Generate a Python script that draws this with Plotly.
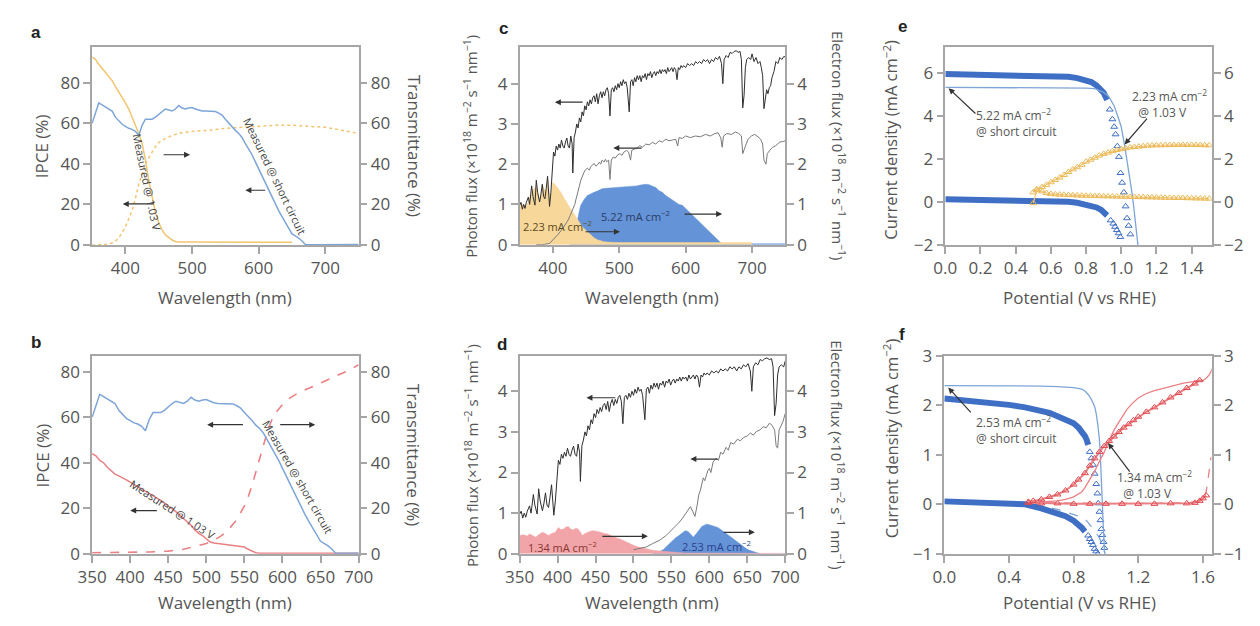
import plotly.graph_objects as go

# ---------------- data ----------------
# Panels a/b : IPCE at short circuit (shared)
ipce_sc_wl = [350,355,360,365,370,375,380,385,390,395,400,405,410,415,420,425,430,435,440,445,450,455,460,465,470,475,480,485,490,495,500,505,510,515,520,525,530,535,540,545,550,555,560,565,570,575,580,585,590,595,600,605,610,615,620,625,630,635,640,645,650,655,660,665,670,680,690,700,720,750]
ipce_sc = [60,65,70,69,68,67,66,63,61,59.5,58.5,57.5,57,56,54,59,62,62,62,63,64.5,66,67,66.5,66,67,68.7,67.5,67,67.5,67.7,67,66.3,66,66,66,66,65.8,65,64,62,60,58.5,56.5,55,53,50,47.5,44.5,41,37.5,34,30.5,27,24,20.5,17,14,11,8,5.5,4.5,3.5,2,0.3,0.2,0.2,0.2,0.3,0.3]

# Panel a : IPCE @1.03 V and transmittance (orange)
a_ipce_v_wl = [350,355,360,365,370,375,380,385,390,395,400,405,410,415,420,425,430,435,440,445,450,455,460,465,470,475,480,500,550,600,650]
a_ipce_v = [92.5,91.5,89,87,85,83,81,78,75.5,73,70,67,63,59.5,55,50,42,32,24,16,11,7.5,5,3.5,2.5,1.8,1.5,1.5,1.5,1.5,1.4]
a_trans_wl = [350,360,370,380,385,390,395,400,405,410,415,420,425,430,435,440,445,450,460,470,480,500,525,550,575,600,625,650,675,700,725,750]
a_trans = [0,0,0.3,1,2,3.5,6,9,13,17,23,30,35,40,43,46,48.5,50.5,52.5,54,55,56,56.5,57.5,58,58.5,59,59,58.5,58,56.5,55]

# Panel b : IPCE @1.03 V and transmittance (red)
b_ipce_v_wl = [350,355,360,365,370,375,380,385,390,395,400,410,420,430,440,450,460,470,480,485,490,495,500,505,510,520,530,540,550,555,560,565,570,580,600,650,700]
b_ipce_v = [44,43,41,40,38,36.5,35,34.2,33.5,32.5,31.5,29.5,27.5,25.5,23.5,21,18.5,15.5,12.5,10.5,9,8,6.5,5.2,4.8,4.3,4,3.5,3,2,1.2,0.5,0.3,0.2,0.2,0.2,0.2]
b_trans_wl = [350,375,400,425,450,470,480,490,500,510,520,530,540,550,555,560,565,570,575,580,585,590,600,610,620,630,640,650,660,670,680,690,700]
b_trans = [0.5,0.5,0.5,0.8,1.2,2,2.8,3.5,4.5,6,8,11,15,21,25,30,36,42,48,53.5,58,61.5,65.5,68.5,70.5,72,73.5,75,76.5,78,79.5,81,83]

# Panels c/d : solar photon flux (shared)
solar_wl = [350,352,354,356,358,360,363,365,368,370,373,375,377,380,382,384,386,388,390,392,394,395,397,399,401,403,405,407,409,411,413,415,417,419,421,423,425,427,429,430,432,434,436,438,440,442,444,446,448,450,452,454,456,458,460,462,464,466,468,470,472,474,476,478,480,482,484,486,488,490,492,494,496,498,500,502,504,506,508,510,512,515,517,519,521,523,525,527,529,531,533,535,537,539,541,543,545,547,549,551,553,555,557,559,561,563,565,567,569,571,573,575,577,579,581,583,585,587,589,591,593,595,597,600,603,606,609,612,615,618,621,624,627,630,633,636,639,642,645,648,651,654,656,658,661,664,667,670,673,676,679,682,684,686,688,690,692,695,698,700,703,706,709,712,714,716,718,720,722,724,726,728,730,733,736,739,742,745,748,750]
solar_flux = [0.98,1.05,0.88,1.0,0.9,1.05,1.18,1.0,1.46,1.2,0.98,1.6,1.3,1.06,1.25,1.5,1.2,1.14,1.4,1.7,1.2,0.95,1.3,1.9,2.3,2.2,2.45,2.35,2.5,2.4,2.6,2.45,2.4,2.55,2.65,2.45,2.4,2.7,2.5,1.78,2.66,2.8,3.0,2.9,3.15,3.05,3.3,3.2,3.45,3.35,3.55,3.45,3.6,3.5,3.65,3.7,3.55,3.75,3.5,3.7,3.8,3.65,3.8,3.7,3.85,3.9,3.75,3.2,3.85,3.9,3.8,3.95,3.85,4.0,3.9,4.05,3.95,4.1,4.0,4.05,3.9,3.3,4.05,4.1,3.95,4.15,4.05,4.2,4.1,4.2,4.05,4.2,4.15,4.25,4.1,4.25,4.2,4.3,4.15,4.25,4.3,4.2,4.3,4.25,4.35,4.25,4.35,4.3,4.35,4.25,4.4,4.3,4.35,4.4,4.3,4.4,4.35,4.1,4.4,4.35,4.45,4.4,4.45,4.4,4.5,4.45,4.5,4.45,4.55,4.5,4.55,4.5,4.6,4.55,4.6,4.5,4.6,4.55,4.65,4.6,4.68,4.5,4.0,4.6,4.7,4.65,4.78,4.75,4.8,4.82,4.78,4.8,4.6,3.4,3.7,4.4,4.6,4.65,4.6,4.74,4.55,4.65,4.5,4.55,4.4,4.2,3.38,3.6,3.85,3.75,3.9,3.95,4.15,4.3,4.55,4.5,4.65,4.6,4.68,4.66]

# Panel c : transmitted flux, electron fluxes
c_trans_wl = [375,385,395,402,407,412,417,422,426,430,433,435,438,440,442,444,447,449,452,455,457,460,462,465,467,470,472,474,477,479,481,484,486,488,491,494,497,501,504,507,511,514,517,519,523,527,531,535,540,545,550,555,560,565,570,575,580,585,588,590,595,600,607,615,622,630,637,644,649,653,655,657,662,669,675,680,684,686,689,694,699,704,709,713,716,718,721,723,727,731,735,738,742,746,750]
c_trans = [0.0,0.0,0.03,0.14,0.24,0.34,0.46,0.58,0.72,0.86,1.0,1.14,1.3,1.46,1.6,1.7,1.8,1.86,1.9,1.85,1.94,1.98,2.02,1.95,1.98,2.05,2.0,2.1,2.05,2.12,2.06,2.1,1.62,2.1,2.18,2.15,2.22,2.26,2.22,2.3,2.34,2.3,2.1,2.35,2.38,2.4,2.46,2.42,2.5,2.48,2.54,2.5,2.58,2.55,2.62,2.58,2.6,2.62,2.45,2.66,2.64,2.7,2.66,2.7,2.68,2.74,2.7,2.76,2.78,2.65,2.42,2.7,2.76,2.74,2.8,2.76,2.7,2.26,2.4,2.62,2.7,2.74,2.68,2.62,2.5,2.1,2.0,2.26,2.35,2.42,2.45,2.5,2.55,2.56,2.58]
c_e_front_wl = [350,355,360,365,370,375,380,385,390,393,395,398,400,403,407,412,417,422,427,432,437,442,447,452,457,462,467,472,477,485,500,550,600,650,700]
c_e_front = [0.98,1.0,0.95,1.15,1.35,1.45,1.1,1.45,1.3,1.6,1.1,1.35,1.55,1.5,1.42,1.3,1.15,1.0,0.88,0.76,0.62,0.5,0.4,0.32,0.24,0.17,0.12,0.09,0.07,0.06,0.05,0.05,0.05,0.05,0.05]
c_e_back_wl = [425,430,432,435,437,440,442,447,452,457,462,467,474,480,490,501,510,520,526,532,540,545,550,555,560,565,570,575,580,585,590,595,600,605,610,615,620,625,630,635,640,644,648,651,654,660,700,750]
c_e_back = [0,0.05,0.18,0.45,0.66,0.85,0.98,1.12,1.22,1.27,1.3,1.33,1.39,1.4,1.41,1.42,1.43,1.45,1.46,1.48,1.5,1.49,1.46,1.42,1.34,1.3,1.22,1.16,1.1,1.05,1.0,0.98,0.9,0.82,0.74,0.66,0.58,0.5,0.42,0.34,0.26,0.18,0.12,0.08,0.03,0.02,0.02,0.02]

# Panel d
d_trans_wl = [500,508,517,525,534,543,551,556,560,564,568,572,575,578,581,584,586,588,590,592,594,596,598,600,602,605,609,612,615,618,622,625,628,632,637,641,645,650,654,658,662,667,671,675,679,682,684,686,688,690,692,695,697,700]
d_trans = [0.1,0.13,0.17,0.25,0.33,0.45,0.6,0.68,0.77,0.86,0.96,1.08,1.16,1.05,0.92,1.2,1.45,1.55,1.75,1.87,1.8,1.95,2.05,2.1,2.0,2.26,2.35,2.3,2.5,2.45,2.62,2.55,2.74,2.7,2.82,2.78,2.86,2.9,2.97,2.92,3.01,3.05,3.13,3.1,3.21,3.18,3.13,3.05,2.66,2.6,3.05,3.15,3.25,3.45]
d_e_front_wl = [350,355,360,363,367,371,375,380,384,388,392,397,401,404,408,411,414,418,421,424,427,430,433,436,440,444,448,452,457,462,466,470,474,478,483,487,491,496,500,504,508,512,517,521,525,534,543,555,568,600,650,700]
d_e_front = [0.45,0.47,0.44,0.49,0.45,0.41,0.47,0.53,0.5,0.45,0.5,0.53,0.65,0.6,0.61,0.66,0.67,0.6,0.59,0.63,0.61,0.52,0.45,0.5,0.54,0.56,0.57,0.56,0.53,0.5,0.49,0.45,0.41,0.39,0.36,0.32,0.29,0.25,0.21,0.18,0.16,0.14,0.12,0.1,0.09,0.07,0.06,0.04,0.02,0.02,0.01,0.01]
d_e_back_wl = [525,534,539,543,547,551,556,560,564,568,572,576,579,583,587,590,593,596,599,602,606,611,615,620,624,628,633,637,641,645,650,654,658,662,667,700]
d_e_back = [0,0.05,0.1,0.17,0.25,0.33,0.4,0.45,0.52,0.57,0.55,0.47,0.41,0.5,0.6,0.67,0.7,0.73,0.72,0.7,0.68,0.65,0.6,0.53,0.47,0.41,0.35,0.29,0.23,0.17,0.11,0.08,0.05,0.03,0.0,0.0]

# Panel e : J-V curves
e_pv_hi_v = [0.0,0.1,0.2,0.3,0.4,0.5,0.6,0.7,0.75,0.8,0.83,0.86,0.885,0.9,0.92]
e_pv_hi_j = [5.95,5.94,5.93,5.92,5.9,5.88,5.85,5.82,5.76,5.67,5.58,5.42,5.25,5.08,4.75]
e_pv_hi_tail_v = [0.935,0.95,0.96,0.968,0.978,0.987,0.996,1.005,1.015,1.025,1.033,1.042,1.052]
e_pv_hi_tail_j = [4.3,3.85,3.5,3.15,2.6,2.1,1.35,0.9,0.45,-0.2,-0.75,-1.1,-1.5]
e_pv_line_v = [0.0,0.2,0.4,0.6,0.7,0.8,0.85,0.9,0.93,0.96,0.98,1.0,1.02,1.04,1.05,1.06,1.07,1.08,1.09,1.095]
e_pv_line_j = [5.33,5.33,5.33,5.33,5.32,5.3,5.27,5.1,4.9,4.47,4.0,3.5,2.6,1.65,1.1,0.5,-0.14,-0.9,-1.63,-2.0]
e_pv_lo_v = [0.0,0.1,0.2,0.3,0.4,0.5,0.6,0.65,0.7,0.75,0.8,0.83,0.86,0.885,0.9,0.92]
e_pv_lo_j = [0.13,0.12,0.12,0.11,0.1,0.09,0.07,0.05,0.02,-0.03,-0.1,-0.16,-0.25,-0.36,-0.45,-0.62]
e_pv_lo_tail_v = [0.94,0.955,0.965,0.975,0.985,0.995]
e_pv_lo_tail_j = [-0.85,-1.0,-1.15,-1.3,-1.45,-1.62]
e_pec_v = [0.5,0.52,0.55,0.575,0.6,0.625,0.65,0.675,0.7,0.725,0.75,0.775,0.8,0.825,0.85,0.875,0.9,0.925,0.95,0.975,1.0,1.025,1.05,1.075,1.1,1.125,1.15,1.175,1.2,1.225,1.25,1.275,1.3,1.325,1.35,1.375,1.4,1.425,1.45,1.475,1.5]
e_pec_hi_j = [0.45,0.6,0.7,0.8,0.92,1.03,1.14,1.26,1.4,1.52,1.62,1.73,1.88,1.97,2.06,2.16,2.24,2.3,2.37,2.42,2.46,2.5,2.54,2.56,2.58,2.6,2.62,2.63,2.64,2.64,2.65,2.65,2.65,2.65,2.66,2.65,2.66,2.65,2.65,2.64,2.64]
e_pec_lo_j = [-0.05,0.55,0.5,0.42,0.38,0.36,0.35,0.34,0.33,0.32,0.31,0.3,0.29,0.29,0.28,0.28,0.27,0.27,0.26,0.26,0.25,0.25,0.24,0.24,0.23,0.23,0.22,0.22,0.21,0.21,0.2,0.2,0.19,0.19,0.19,0.18,0.18,0.17,0.17,0.16,0.16]

# Panel f
f_pv_line_v = [0.0,0.2,0.4,0.6,0.7,0.8,0.85,0.87,0.89,0.91,0.93,0.94,0.95,0.96,0.965,0.972,0.978,0.985,0.992]
f_pv_line_j = [2.4,2.4,2.4,2.39,2.38,2.36,2.33,2.29,2.22,2.12,1.98,1.83,1.6,1.3,1.0,0.34,-0.1,-0.55,-1.0]
f_pv_hi_v = [0.0,0.1,0.2,0.3,0.4,0.5,0.6,0.65,0.7,0.75,0.8,0.83,0.85,0.87,0.88,0.89]
f_pv_hi_j = [2.14,2.11,2.08,2.05,2.01,1.96,1.9,1.85,1.78,1.72,1.64,1.55,1.48,1.38,1.31,1.2]
f_pv_hi_tail_v = [0.9,0.91,0.92,0.93,0.94,0.947,0.952,0.96,0.966,0.972,0.978,0.985,0.99]
f_pv_hi_tail_j = [1.06,0.93,0.8,0.62,0.41,0.22,0.02,-0.15,-0.32,-0.5,-0.62,-0.76,-0.88]
f_pv_lo_v = [0.0,0.1,0.2,0.3,0.4,0.5,0.6,0.65,0.7,0.75,0.8,0.83,0.85,0.87]
f_pv_lo_j = [0.06,0.05,0.04,0.03,0.02,0.0,-0.08,-0.13,-0.18,-0.24,-0.33,-0.4,-0.47,-0.55]
f_pv_lo_tail_v = [0.89,0.9,0.91,0.92,0.93,0.94,0.95]
f_pv_lo_tail_j = [-0.63,-0.7,-0.76,-0.82,-0.9,-0.95,-1.0]
f_pv_dash_v = [0.0,0.2,0.4,0.5,0.6,0.7,0.8,0.85,0.88,0.91,0.94,0.96,0.975,0.985,0.995]
f_pv_dash_j = [0.06,0.05,0.03,0.01,-0.03,-0.1,-0.2,-0.26,-0.33,-0.45,-0.58,-0.68,-0.8,-0.9,-1.0]
f_pec_line_v = [0.52,0.6,0.7,0.75,0.8,0.85,0.87,0.9,0.93,0.96,0.99,1.02,1.05,1.08,1.1,1.13,1.16,1.2,1.25,1.3,1.36,1.42,1.48,1.54,1.58,1.6,1.62,1.64,1.66]
f_pec_line_j = [0.05,0.05,0.07,0.1,0.15,0.25,0.34,0.5,0.67,0.87,1.06,1.3,1.5,1.66,1.77,1.92,2.03,2.15,2.24,2.3,2.35,2.4,2.45,2.48,2.51,2.5,2.55,2.62,2.75]
f_pec_hi_v = [0.52,0.55,0.6,0.65,0.7,0.75,0.8,0.83,0.87,0.9,0.93,0.96,0.99,1.02,1.05,1.08,1.11,1.14,1.17,1.2,1.25,1.3,1.35,1.4,1.45,1.5,1.55,1.58]
f_pec_hi_j = [0.05,0.07,0.1,0.15,0.2,0.28,0.4,0.5,0.63,0.78,0.93,1.06,1.18,1.28,1.37,1.46,1.55,1.62,1.7,1.77,1.87,1.96,2.06,2.16,2.25,2.35,2.44,2.51]
f_pec_lo_v = [0.52,0.6,0.7,0.8,0.9,1.0,1.1,1.2,1.3,1.4,1.5,1.55,1.58,1.6,1.62]
f_pec_lo_j = [0.03,0.02,0.02,0.01,0.01,0.01,0.01,0.01,0.01,0.02,0.02,0.03,0.07,0.12,0.18]
f_pec_dash_v = [0.52,0.8,1.2,1.5,1.6,1.62,1.63,1.64,1.65]
f_pec_dash_j = [0.03,0.02,0.02,0.03,0.08,0.25,0.45,0.7,0.95]

# ---------------- styling / layout ----------------
W, H = 1260, 626
def px(x): return x / W
def py(y): return 1 - y / H

FONT = "Open Sans, Lato, DejaVu Sans, sans-serif"
FRAME = "#a6a6a6"
TXT = "#555555"
BLUE_L = "#7da5d8"
BLUE_T = "#3f6fc4"
BLUE_F = "#6494d7"
ORANGE_L = "#f2c46f"
ORANGE_T = "#ebb957"
ORANGE_F = "#f8d79a"
RED_L = "#ea8084"
RED_T = "#e0484e"
RED_F = "#f2a5a8"
BLACK = "#2e2e2e"
GRAY = "#7a7a7a"

panels = [
    dict(x=(79, 352), y=(36, 242), xr=[350, 750], yr=[0, 97.7], xt=[400, 500, 600, 700], yt=[0, 20, 40, 60, 80], fmt=None),
    dict(x=(79, 352), y=(357, 562.5), xr=[350, 700], yr=[0, 86.9], xt=[350, 400, 450, 500, 550, 600, 650, 700], yt=[0, 20, 40, 60, 80], fmt=None),
    dict(x=(517, 789), y=(36, 241.5), xr=[350, 750], yr=[0, 4.92], xt=[400, 500, 600, 700], yt=[0, 1, 2, 3, 4], fmt=None),
    dict(x=(517, 789), y=(357, 562.5), xr=[350, 700], yr=[0, 4.87], xt=[350, 400, 450, 500, 550, 600, 650, 700], yt=[0, 1, 2, 3, 4], fmt=None),
    dict(x=(953, 1226), y=(36.5, 242), xr=[0, 1.515], yr=[-2, 7.2], xt=[0, 0.2, 0.4, 0.6, 0.8, 1.0, 1.2, 1.4], yt=[-2, 0, 2, 4, 6], fmt=".1f"),
    dict(x=(952, 1226), y=(357, 562.5), xr=[0, 1.655], yr=[-1, 3], xt=[0, 0.4, 0.8, 1.2, 1.6], yt=[-1, 0, 1, 2, 3], fmt=".1f"),
]

layout = dict(width=W, height=H, margin=dict(l=0, r=0, t=0, b=0),
              paper_bgcolor="white", plot_bgcolor="rgba(0,0,0,0)",
              showlegend=False, font=dict(family=FONT, color=TXT))

tickfont = dict(family=FONT, size=17, color=TXT)
axcommon = dict(showline=True, linecolor=FRAME, linewidth=1.5, ticks="outside", ticklen=7,
                tickcolor=FRAME, tickwidth=1.5, showgrid=False, zeroline=False, tickfont=tickfont)

def xn(i): return "x" if i == 1 else f"x{i}"
def yn(i): return "y" if i == 1 else f"y{i}"

for i, p in enumerate(panels, start=1):
    xk = "xaxis" if i == 1 else f"xaxis{i}"
    yk = "yaxis" if i == 1 else f"yaxis{i}"
    rk = f"yaxis{i+6}"
    xa = dict(axcommon, domain=[px(p["x"][0]), px(p["x"][1])], range=p["xr"], anchor=yn(i),
              tickvals=p["xt"], mirror=True)
    if p["fmt"]:
        xa["tickformat"] = p["fmt"]
    layout[xk] = xa
    layout[yk] = dict(axcommon, domain=[py(p["y"][1]), py(p["y"][0])], range=p["yr"], anchor=xn(i),
                      tickvals=p["yt"])
    layout[rk] = dict(axcommon, overlaying=yn(i), side="right", anchor=xn(i), range=p["yr"],
                      tickvals=p["yt"])

fig = go.Figure()

def add(i, x, y, **kw):
    fig.add_trace(go.Scatter(x=x, y=y, xaxis=xn(i), yaxis=yn(i), hoverinfo="skip", **kw))

# empty traces so the right-hand axes are drawn
for i in range(1, 7):
    fig.add_trace(go.Scatter(x=[], y=[], xaxis=xn(i), yaxis=f"y{i+6}", showlegend=False))

# ---- a ----
add(1, a_trans_wl, a_trans, mode="lines", line=dict(color=ORANGE_L, width=1.5, dash="dot"))
add(1, a_ipce_v_wl, a_ipce_v, mode="lines", line=dict(color=ORANGE_L, width=1.5))
add(1, ipce_sc_wl, ipce_sc, mode="lines", line=dict(color=BLUE_L, width=1.5))
# ---- b ----
add(2, b_trans_wl, b_trans, mode="lines", line=dict(color=RED_L, width=1.6, dash="dash"))
add(2, b_ipce_v_wl, b_ipce_v, mode="lines", line=dict(color=RED_L, width=1.5))
add(2, ipce_sc_wl, ipce_sc, mode="lines", line=dict(color=BLUE_L, width=1.5))
# ---- c ----
add(3, c_e_back_wl, c_e_back, mode="lines", fill="tozeroy", fillcolor=BLUE_F, line=dict(color=BLUE_F, width=0.5))
add(3, c_e_front_wl, c_e_front, mode="lines", fill="tozeroy", fillcolor=ORANGE_F, line=dict(color=ORANGE_F, width=0.5))
add(3, c_trans_wl, c_trans, mode="lines", line=dict(color=GRAY, width=1))
add(3, solar_wl, solar_flux, mode="lines", line=dict(color=BLACK, width=1))
# ---- d ----
add(4, d_e_back_wl, d_e_back, mode="lines", fill="tozeroy", fillcolor=BLUE_F, line=dict(color=BLUE_F, width=0.5))
add(4, d_e_front_wl, d_e_front, mode="lines", fill="tozeroy", fillcolor=RED_F, line=dict(color=RED_F, width=0.5))
add(4, d_trans_wl, d_trans, mode="lines", line=dict(color=GRAY, width=1))
add(4, solar_wl, solar_flux, mode="lines", line=dict(color=BLACK, width=1))
# ---- e ----
tri = dict(symbol="triangle-up-open", size=6, line=dict(width=1))
add(5, e_pv_hi_v, e_pv_hi_j, mode="lines", line=dict(color=BLUE_T, width=6))
add(5, e_pv_hi_tail_v, e_pv_hi_tail_j, mode="markers", marker=dict(tri, color=BLUE_T))
add(5, e_pv_lo_v, e_pv_lo_j, mode="lines", line=dict(color=BLUE_T, width=6))
add(5, e_pv_lo_tail_v, e_pv_lo_tail_j, mode="markers", marker=dict(tri, color=BLUE_T))
add(5, e_pv_line_v, e_pv_line_j, mode="lines", line=dict(color=BLUE_L, width=1.3))
add(5, e_pec_v, e_pec_hi_j, mode="lines+markers", line=dict(color=ORANGE_L, width=1.2), marker=dict(tri, color=ORANGE_T))
add(5, e_pec_v, e_pec_lo_j, mode="lines+markers", line=dict(color=ORANGE_L, width=1.2), marker=dict(tri, color=ORANGE_T))
# ---- f ----
add(6, f_pv_dash_v, f_pv_dash_j, mode="lines", line=dict(color=BLUE_L, width=1.3, dash="dash"))
add(6, f_pv_hi_v, f_pv_hi_j, mode="lines", line=dict(color=BLUE_T, width=6))
add(6, f_pv_hi_tail_v, f_pv_hi_tail_j, mode="markers", marker=dict(tri, color=BLUE_T))
add(6, f_pv_lo_v, f_pv_lo_j, mode="lines", line=dict(color=BLUE_T, width=6))
add(6, f_pv_lo_tail_v, f_pv_lo_tail_j, mode="markers", marker=dict(tri, color=BLUE_T))
add(6, f_pv_line_v, f_pv_line_j, mode="lines", line=dict(color=BLUE_L, width=1.3))
add(6, f_pec_dash_v, f_pec_dash_j, mode="lines", line=dict(color=RED_L, width=1.3, dash="dash"))
add(6, f_pec_lo_v, f_pec_lo_j, mode="lines+markers", line=dict(color=RED_L, width=2), marker=dict(tri, color=RED_T))
add(6, f_pec_line_v, f_pec_line_j, mode="lines", line=dict(color=RED_L, width=1.3))
add(6, f_pec_hi_v, f_pec_hi_j, mode="lines+markers", line=dict(color=RED_L, width=2), marker=dict(tri, color=RED_T))

ann = []
def arrow(i, x0, y0, x1, y1):
    ann.append(dict(x=x1, y=y1, ax=x0, ay=y0, xref=xn(i), yref=yn(i), axref=xn(i), ayref=yn(i),
                    text="", showarrow=True, arrowhead=2, arrowsize=1, arrowwidth=1.2, arrowcolor="#333333"))

def label(i, x, y, text, angle=0, size=11, color="#444444", xanchor="center", align="center"):
    ann.append(dict(x=x, y=y, xref=xn(i), yref=yn(i), text=text, showarrow=False, textangle=angle,
                    xanchor=xanchor, yanchor="middle", align=align,
                    font=dict(family=FONT, size=size, color=color)))

def ptext(x, y, text, angle=0, size=16, color=TXT, bold=False, family=FONT):
    ann.append(dict(x=px(x), y=py(y), xref="paper", yref="paper", text=f"<b>{text}</b>" if bold else text,
                    showarrow=False, textangle=angle, xanchor="center", yanchor="middle",
                    font=dict(family=family, size=size, color=color)))

# arrows
arrow(1, 455, 44.5, 497, 44.5); arrow(1, 445, 20.3, 396, 20.3); arrow(1, 612, 27, 580, 27)
arrow(2, 550, 56.7, 501, 56.7); arrow(2, 595, 56.7, 643, 56.7); arrow(2, 437, 19, 400, 19)
arrow(3, 447, 3.54, 403, 3.54); arrow(3, 536, 2.4, 491, 2.4); arrow(3, 596, 0.76, 655, 0.76); arrow(3, 447, 0.32, 501, 0.32)
arrow(4, 478, 3.84, 438, 3.84); arrow(4, 613, 2.33, 575, 2.33); arrow(4, 457, 0.43, 519, 0.43); arrow(4, 617, 0.53, 660, 0.53)
arrow(5, 0.18, 4.05, 0.019, 5.29); arrow(5, 1.154, 3.95, 1.019, 2.68)
arrow(6, 0.172, 1.83, 0.024, 2.36); arrow(6, 1.154, 0.63, 1.013, 1.24)

# in-plot labels
label(1, 433, 31, "Measured @ 1.03 V", angle=78)
label(1, 625, 34, "Measured @ short circuit", angle=64)
label(2, 456, 19.3, "Measured @ 1.03 V", angle=33)
label(2, 620, 34, "Measured @ short circuit", angle=60)
label(3, 524, 0.7, "5.22 mA cm<sup>−2</sup>", color="#2d3b66")
label(3, 407, 0.46, "2.23 mA cm<sup>−2</sup>", color="#5a4a1e")
label(4, 407, 0.17, "1.34 mA cm<sup>−2</sup>", color="#8b3535")
label(4, 610, 0.19, "2.53 mA cm<sup>−2</sup>", color="#2c3f8c")
label(5, 0.163, 3.68, "5.22 mA cm<sup>−2</sup><br>@ short circuit", size=12, color="#555555", xanchor="left", align="left")
label(5, 1.052, 4.55, "2.23 mA cm<sup>−2</sup><br>  @ 1.03 V", size=12, color="#555555", xanchor="left", align="left")
label(6, 0.182, 1.51, "2.53 mA cm<sup>−2</sup><br>@ short circuit", size=12, color="#555555", xanchor="left", align="left")
label(6, 1.053, 0.39, "1.34 mA cm<sup>−2</sup><br>  @ 1.03 V", size=12, color="#555555", xanchor="left", align="left")

# axis titles
for yc, yb in [(139, 296), (460, 613)]:
    ptext(28, yc, "IPCE (%)", angle=-90, size=17)
    ptext(409, yc, "Transmittance (%)", angle=90, size=17)
    ptext(215, yb, "Wavelength (nm)", size=17)
    ptext(467, yc, "Photon flux (×10<sup>18</sup> m<sup>−2</sup> s<sup>−1</sup> nm<sup>−1</sup>)", angle=-90, size=15)
    ptext(843, yc, "Electron flux (×10<sup>18</sup> m<sup>−2</sup> s<sup>−1</sup> nm<sup>−1</sup>)", angle=90, size=15)
    ptext(653, yb, "Wavelength (nm)", size=17)
    ptext(1090, yb, "Potential (V vs RHE)", size=17)
ptext(897, 133, "Current density (mA cm<sup>−2</sup>)", angle=-90, size=16.5)
ptext(897, 443, "Current density (mA cm<sup>−2</sup>)", angle=-90, size=16.5)

# panel letters
for x, y, t in [(22, 21, "a"), (22, 343, "b"), (500, 17, "c"), (499, 345, "d"), (909, 15, "e"), (909, 335, "f")]:
    ptext(x, y, t, size=17, color="#222222", bold=True, family="Liberation Sans, Arial, sans-serif")

layout["annotations"] = ann
fig.update_layout(**layout)
fig.write_html("out.html")
